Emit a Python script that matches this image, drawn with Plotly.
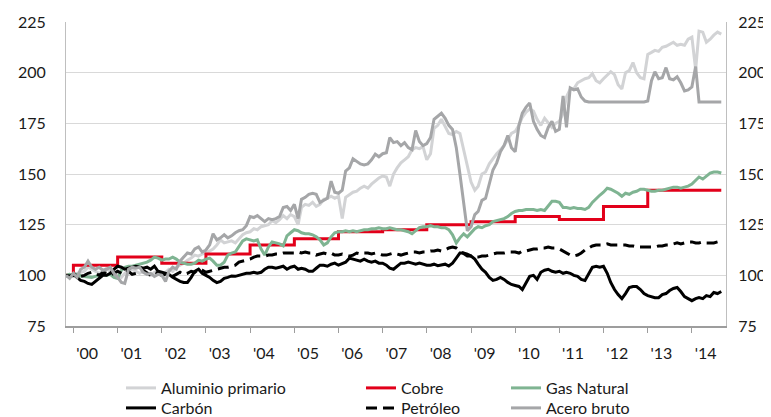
import pandas as pd
import plotly.graph_objects as go

# Monthly index values (base = 100), Nov-1999 .. Sep-2014
months = pd.date_range("1999-11-01", "2014-09-01", freq="MS")

aluminio = [
    100, 100.5,
    99.5, 101, 101.5, 102, 104, 103, 102, 101, 102, 103.5, 102, 101.5,
    100.5, 99, 101, 102.5, 103, 102, 101, 102, 100.5, 100, 101.5, 102,
    101, 101.5, 103, 102, 104, 105, 106, 107.5, 108.5, 110, 109.5, 110.5,
    111, 112, 113, 115, 117.5, 116, 116.5, 117, 116, 118, 120, 121,
    121.5, 123, 122.5, 124, 124.5, 125, 127, 126, 127.5, 129.5, 128, 130,
    129, 125, 133.5, 135, 134.5, 136, 134, 135, 137.5, 138, 139, 138,
    139, 128, 138.5, 140, 141, 141.5, 143, 144, 143, 145, 146.5, 148,
    149, 148.5, 144, 150, 153, 155.5, 157, 158.5, 162, 163, 162.5, 163.5,
    157, 160, 172.5, 174, 177, 173.5, 170, 169.5, 171, 170, 162, 155,
    146, 142, 144, 150, 151, 155, 157.5, 160, 162, 164, 167, 170,
    171, 174, 178, 180.5, 182, 181, 177, 174, 177.5, 175, 173, 175,
    176, 180, 188, 192, 192, 195, 196, 197, 197.5, 199.5, 196, 195,
    197, 199, 200.5, 199, 194, 192, 200, 201, 205, 200, 197.5, 197,
    209, 210, 211, 210.5, 212.5, 213, 214, 215, 213.5, 214, 213.5, 216.5,
    217.5, 201.5, 220.5, 220, 215, 216.5, 218.5, 220, 219,
]

carbon = [
    100, 99.5,
    100.5, 99, 97.5, 97, 96, 95.5, 97, 98.5, 100, 100, 101, 103,
    104.5, 104, 103, 103.5, 104, 104.5, 104, 103.5, 104, 103, 104.5, 102,
    101.5, 101, 100.5, 99, 98, 97, 96.5, 96.5, 99, 102, 103, 101,
    100, 99, 97.5, 96.4, 97, 98.5, 99, 99.7, 99.5, 100, 100.5, 101,
    101, 101.5, 101, 101.5, 103, 104, 104, 103.5, 104, 104.5, 103, 104,
    104.5, 103, 103.5, 103, 102, 102, 103.5, 105, 105, 104.5, 105.5, 106,
    105, 106, 106.5, 108.5, 108, 107.5, 107, 108, 107, 106.5, 107, 106,
    106, 105, 103.5, 103, 104.5, 106, 106, 106.5, 106, 105.5, 106, 105.5,
    105, 105, 105.5, 104.8, 105, 105.5, 104.6, 106, 108.5, 111, 111, 110.5,
    109.5, 108, 105.5, 103, 101.5, 99, 97.5, 98, 99, 98, 96.5, 95.5,
    95, 94.5, 93, 96.5, 99.5, 100, 98, 101.5, 102.5, 103, 102, 101.5,
    102, 101, 101.5, 101, 100, 99.5, 98, 97.5, 101, 104, 104.5, 104,
    104.5, 101, 96.5, 93, 90.5, 88.5, 91, 94, 94.5, 94.5, 93, 91,
    90, 89.5, 89, 89, 90.5, 91, 92.5, 93.5, 94, 92, 89.5, 88.5,
    87.5, 88.5, 89, 88.5, 90, 89.5, 91.5, 91, 92,
]

gas_natural = [
    100, 100.5,
    100, 100.5, 99.7, 99.5, 99.5, 99, 99.5, 100, 100.5, 100, 100.5, 99,
    98.5, 102.5, 104, 104.5, 104.5, 105, 105.5, 106, 106.5, 107.5, 109, 108.5,
    107.5, 108, 108, 109, 108, 106.5, 106, 105.5, 105.5, 106, 107.5, 107,
    108, 108.5, 107, 105, 105, 106.5, 110, 111, 111.5, 114, 117, 118,
    117.5, 117, 117.5, 113, 110, 114, 116.5, 116, 115.5, 114.5, 119.5, 121,
    122.5, 122, 121, 120.5, 120.5, 120, 119, 117.5, 115, 116, 119, 121,
    121.5, 121.5, 122, 121.5, 122, 121.5, 122, 122.5, 122.5, 123, 123, 123.5,
    123, 123, 123.5, 123, 122.5, 122.5, 122, 121.5, 120.5, 122, 123.5, 124,
    124, 124.5, 124, 124, 123.5, 123.5, 122.5, 120, 116, 118.5, 120.5, 119,
    121, 123, 124, 123.5, 124.5, 125, 126.5, 127, 127.5, 128, 129, 130.5,
    131.5, 132, 132, 132.5, 132.5, 132.5, 132, 132.5, 132, 134.5, 136.5, 136.5,
    136, 133.5, 133.5, 133, 133.5, 133, 133, 132.5, 133.5, 136, 138, 139.5,
    141, 143, 142.5, 141.5, 140.5, 139, 140.5, 140, 141, 141.5, 142.5, 142.5,
    142, 141.5, 141.5, 142, 142, 142.5, 143, 143.5, 143.5, 143, 143.5, 144,
    145, 147, 148.5, 147.5, 149, 150.5, 151, 151, 150.5,
]

petroleo = [
    100, 99.5,
    100, 101, 99.5, 100, 101, 101.5, 101, 100, 101.5, 101, 100, 101,
    102, 101, 102.5, 102, 100.5, 101, 102, 102.5, 101, 100, 101.5, 101,
    100, 100.5, 100, 99.5, 100.5, 101.5, 100.5, 101, 102, 101.5, 103, 102.5,
    101.5, 102, 102.5, 103, 103.5, 104, 104, 104.5, 105, 106.5, 107, 107.5,
    108, 109, 109.5, 109.5, 109.5, 110, 110, 110.5, 110.5, 111, 111, 111,
    111, 111.5, 111, 111.5, 111, 111, 110, 110.5, 111, 110.5, 111, 110,
    110, 110.5, 110, 109.5, 110, 111, 110.5, 111, 111, 110.5, 111, 110.5,
    110, 110, 110.5, 111, 110.5, 110, 110.5, 111, 111.5, 111.5, 111, 111.5,
    111.5, 112, 112, 112.5, 112, 112.5, 113.5, 114, 113.5, 112, 110.5, 109.5,
    109.5, 109, 109, 109.5, 109.5, 110, 110.5, 111, 111, 111, 111.5, 111.5,
    111.5, 111, 112, 112, 112.5, 113, 113, 113.5, 113.5, 114, 113.5, 113.5,
    113, 112, 111, 110, 109.5, 110, 111, 112.5, 113.5, 114.5, 115, 115,
    115, 115.5, 115, 115, 115, 115, 115, 114.5, 114.5, 114, 114, 114,
    114, 114, 114, 114.5, 114.5, 115, 115, 115.5, 116, 115.5, 116, 116.5,
    116.5, 116, 116, 116.5, 116, 116, 116, 116.5, 116,
]

acero = [
    100, 98.5,
    101, 99, 103, 104, 107, 104, 103, 104, 102.5, 103, 104, 101,
    99, 96.5, 96, 103, 104, 103.5, 104, 101.5, 100.5, 101, 99.5, 100.5,
    100, 97, 102, 104, 103, 107, 109, 111, 110.5, 113, 114, 111.5,
    112.5, 115, 120.5, 117.5, 118.5, 120, 118.5, 119.5, 121, 122, 122.5, 124.5,
    129, 128.5, 129.5, 128, 126.5, 128, 127.5, 128, 129, 133.5, 134, 132,
    135, 128, 137.5, 138.5, 140, 140.5, 140, 136, 137, 138, 146.5, 141,
    140.5, 142, 151.5, 153, 157.5, 156, 155, 154.5, 155, 157, 159.8, 158.5,
    160, 160.5, 168, 165.5, 166, 164, 165.5, 163, 162, 171.5, 166, 164,
    165, 168, 177, 178.5, 180, 177.5, 174, 172, 163, 150, 137, 122,
    124, 130, 131.5, 137, 138, 145, 152, 155.5, 161, 164, 169, 163,
    161, 174, 180, 183, 185, 176, 172, 169, 168, 173, 176, 171,
    172, 188.5, 173, 192.5, 191.5, 192, 188, 186, 185.5, 185.5, 185.5, 185.5,
    185.5, 185.5, 185.5, 185.5, 185.5, 185.5, 185.5, 185.5, 185.5, 185.5, 185.5, 185.5,
    186, 196, 200.5, 197, 197.5, 202.5, 197, 196.5, 198, 195, 191, 191.5,
    193, 203, 185.5, 185.5, 185.5, 185.5, 185.5, 185.5, 185.5,
]

# Copper price index changes once a year (step series)
cobre_dates = ["1999-11-01", "2000-01-01", "2001-01-01", "2002-01-01", "2003-01-01",
               "2004-01-01", "2005-01-01", "2006-01-01", "2007-01-01", "2008-01-01",
               "2009-01-01", "2010-01-01", "2011-01-01", "2012-01-01", "2013-01-01",
               "2014-01-01", "2014-09-01"]
cobre = [100, 105, 109, 106, 110.5, 115, 118, 121.5, 122.5, 125,
         126.5, 129, 127.5, 134, 142, 142, 142]

years = list(range(2000, 2015))
year_labels = ["'%02d" % (y % 100) for y in years]
y_ticks = [75, 100, 125, 150, 175, 200, 225]

FONT = "Lato"
LW = 3

# The page body has an 8px default margin; size the figure so it fits the 771x417 window.
PAGE_OFF = 8
W, H = 771 - PAGE_OFF, 417 - PAGE_OFF

fig = go.Figure()


def add(name, x, y, color, legend, dash=None, shape="linear", yaxis="y"):
    fig.add_trace(go.Scatter(
        x=list(x)[:len(y)], y=y, name=name, mode="lines",
        line=dict(color=color, width=LW, dash=dash, shape=shape),
        legend=legend, yaxis=yaxis, hoverinfo="skip"))


add("Aluminio primario", months, aluminio, "#d2d3d5", "legend")
add("Cobre", cobre_dates, cobre, "#e2001a", "legend2")
add("Gas Natural", months, gas_natural, "#7fb492", "legend3")
add("Carbón", months, carbon, "#000000", "legend4")
add("Petróleo", months, petroleo, "#000000", "legend5", dash="11px,6px")
add("Acero bruto", months, acero, "#a5a6a8", "legend6", yaxis="y2")
fig.data[1].line.shape = "hv"

label_dates = ["%d-04-24" % y for y in years]
tick_dates = ["%d-01-01" % y for y in years]

fig.update_layout(
    width=W, height=H,
    margin=dict(l=66 - PAGE_OFF, r=W - (726 - PAGE_OFF), t=22 - PAGE_OFF,
                b=H - (326 - PAGE_OFF), autoexpand=False),
    paper_bgcolor="white", plot_bgcolor="white",
    font=dict(family=FONT, size=16, color="#1a1a1a"),
    xaxis=dict(
        type="date", range=["1999-11-01", "2014-10-10"], autorange=False,
        showgrid=False, zeroline=False,
        showline=True, linecolor="#9d9d9d", linewidth=1.5,
        tickmode="array", tickvals=label_dates, ticktext=year_labels,
        ticks="", ticklabelstandoff=12,
        minor=dict(tickmode="array", tickvals=tick_dates, ticks="outside",
                   ticklen=5, tickwidth=1, tickcolor="#9d9d9d", showgrid=False),
    ),
    yaxis=dict(
        range=[75, 225], autorange=False, tickmode="array", tickvals=y_ticks,
        showgrid=True, gridcolor="#d9d9d9", gridwidth=1, zeroline=False,
        showline=True, linecolor="#bfbfbf", linewidth=1,
        ticks="", ticklabelstandoff=16,
    ),
    yaxis2=dict(
        range=[75, 225], autorange=False, tickmode="array", tickvals=y_ticks,
        overlaying="y", side="right", showgrid=False, zeroline=False,
        showline=True, linecolor="#bfbfbf", linewidth=1,
        ticks="", ticklabelstandoff=8,
    ),
    showlegend=True,
)

leg_common = dict(orientation="v", xref="container", yref="container",
                  xanchor="left", yanchor="top", bgcolor="rgba(0,0,0,0)",
                  font=dict(family=FONT, size=16, color="#1a1a1a"),
                  itemwidth=30, tracegroupgap=0)
row_tops = [371, 391]            # page pixels of each legend row's top
col_lefts = [121, 361, 506]      # page pixels of each legend column's left
legend_slots = {}
for i in range(6):
    r, c = divmod(i, 3)
    key = "legend" if i == 0 else "legend%d" % (i + 1)
    legend_slots[key] = dict(x=(col_lefts[c] - PAGE_OFF) / W,
                             y=1 - (row_tops[r] - PAGE_OFF) / H, **leg_common)
fig.update_layout(**legend_slots)

fig.write_html("out.html")
